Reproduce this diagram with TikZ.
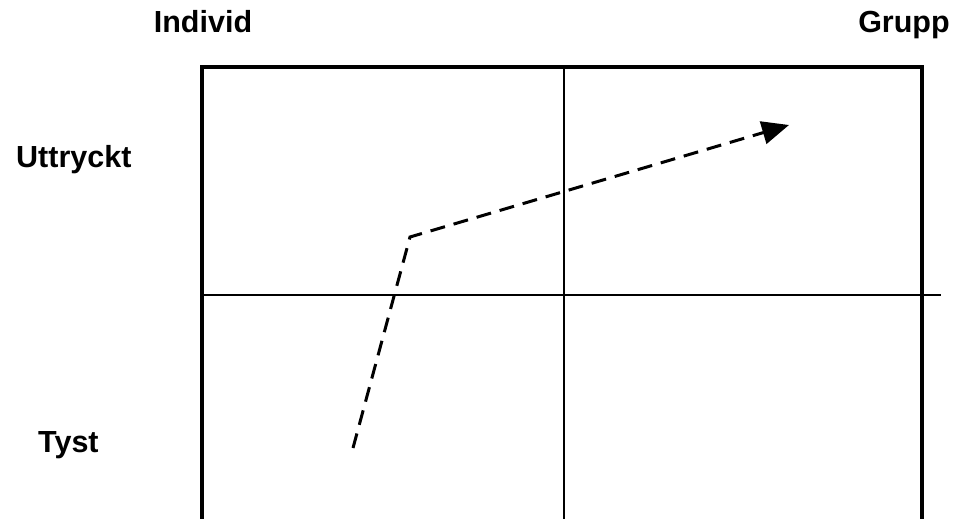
\documentclass[tikz,border=0pt]{standalone}
\usepackage{fontspec}
\setmainfont{Liberation Sans}
\usetikzlibrary{arrows.meta}
\begin{document}
\begin{tikzpicture}[x=1pt,y=-1pt,
  lbl/.style={font=\fontsize{30.5}{32}\selectfont\bfseries, inner sep=0pt},
  frame/.style={line width=4pt, line join=miter},
  axis/.style={line width=1.6pt},
  path/.style={line width=3pt, dash pattern=on 15pt off 9pt, -{Triangle[length=27pt,width=23pt]}}]
\useasboundingbox (0,0) rectangle (953,519);
\clip (0,0) rectangle (953,519);
\fill[white] (0,0) rectangle (953,519);
% frame
\draw[frame] (202,540) -- (202,67) -- (922,67) -- (922,540);
\coordinate (hl) at (202,295);
\coordinate (hr) at (941,295);
\coordinate (vt) at (564,67);
\coordinate (vb) at (564,540);
\draw[axis] (hl) -- (hr);
\draw[axis] (vt) -- (vb);
% labels
\node[lbl, anchor=base] (individ) at (203,33) {Individ};
\node[lbl, anchor=base] (grupp) at (904,33) {Grupp};
\node[lbl, anchor=base west] (uttryckt) at (16,167) {Uttryckt};
\node[lbl, anchor=base west] (tyst) at (38,452) {Tyst};
% path
\coordinate (start) at (353,448);
\coordinate (bend) at (410,237);
\coordinate (tip) at (789,125);
\draw[path] (start) -- (bend) -- (tip);
\end{tikzpicture}
\end{document}
